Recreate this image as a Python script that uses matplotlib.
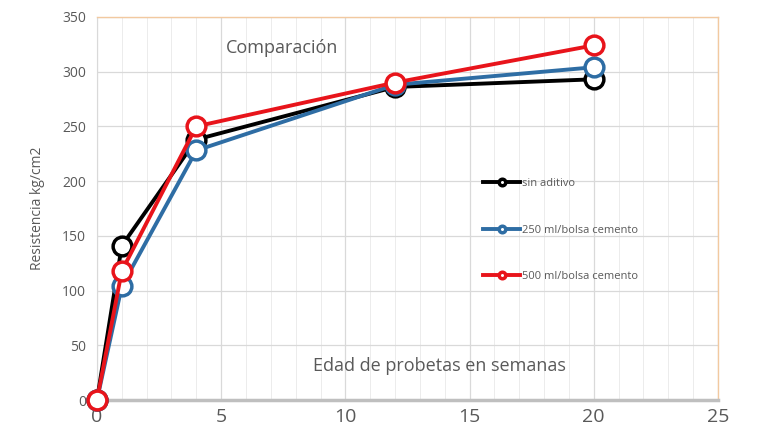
import matplotlib
matplotlib.use("Agg")
import matplotlib.pyplot as plt
from matplotlib.ticker import MultipleLocator

semanas = [0, 1, 4, 12, 20]
sin_aditivo = [0, 141, 238, 286, 293]
bolsa_250 = [0, 104, 228, 288, 304]
bolsa_500 = [0, 118, 250, 290, 324]

series = [
    ("sin aditivo", sin_aditivo, "#000000"),
    ("250 ml/bolsa cemento", bolsa_250, "#2e6da4"),
    ("500 ml/bolsa cemento", bolsa_500, "#e8141b"),
]

plt.rcParams["font.family"] = ["Open Sans", "DejaVu Sans"]

fig = plt.figure(figsize=(7.6, 4.45), dpi=100)
ax = fig.add_axes([0.1276, 0.101, 0.817, 0.861])

for nombre, valores, color in series:
    ax.plot(semanas, valores, color=color, lw=2.8, marker="o", ms=13.5,
            mfc="white", mec=color, mew=2.5, label=nombre, zorder=3)

ax.set_xlim(0, 25)
ax.set_ylim(0, 350)
ax.xaxis.set_major_locator(MultipleLocator(5))
ax.xaxis.set_minor_locator(MultipleLocator(1))
ax.yaxis.set_major_locator(MultipleLocator(50))
ax.grid(which="major", color="#d9d9d9", lw=0.9)
ax.grid(which="minor", axis="x", color="#ececec", lw=0.7)
ax.set_axisbelow(True)

for lado in ("top", "right"):
    ax.spines[lado].set_color("#f2c9a0")
    ax.spines[lado].set_linewidth(1.0)
ax.spines["left"].set_color("#d9d9d9")
ax.spines["bottom"].set_color("#bfbfbf")
ax.spines["bottom"].set_linewidth(2.5)

ax.tick_params(axis="x", which="both", length=0, labelsize=14, labelcolor="#595959", pad=6)
ax.tick_params(axis="y", length=0, labelsize=10, labelcolor="#595959", pad=8)
ax.set_ylabel("Resistencia kg/cm2", fontsize=10, color="#595959", labelpad=12)

for m in ax.get_lines():
    m.set_clip_on(False)

ax.text(7.45, 322, "Comparación", fontsize=13, color="#595959", ha="center", va="center")
ax.text(13.8, 31, "Edad de probetas en semanas", fontsize=13, color="#595959",
        ha="center", va="center")

leg = ax.legend(loc="upper left", bbox_to_anchor=(0.605, 0.605), frameon=False,
                fontsize=8, labelspacing=3.2, handlelength=3.4, handletextpad=0.1,
                markerscale=0.35, labelcolor="#595959")

fig.savefig("out.png", dpi=100)
